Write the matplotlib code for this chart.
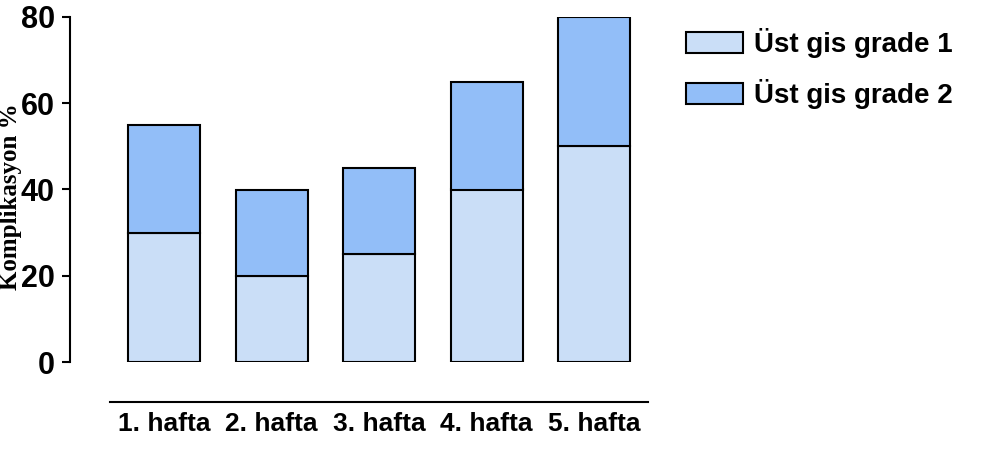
import matplotlib
matplotlib.use('Agg')
import matplotlib.pyplot as plt
import numpy as np

# data
weeks = ['1. hafta', '2. hafta', '3. hafta', '4. hafta', '5. hafta']
grade1 = [30, 20, 25, 40, 50]
grade2 = [25, 20, 20, 25, 30]
series_labels = ['Üst gis grade 1', 'Üst gis grade 2']
yticks = [0, 20, 40, 60, 80]

C_LIGHT = '#CADEF7'
C_DARK = '#92BEF8'

fig = plt.figure(figsize=(9.89, 4.5), dpi=100)
ax = fig.add_axes([70 / 989, 88 / 450, 578 / 989, 345 / 450])

x = np.arange(len(weeks))
ax.bar(x, grade1, width=0.67, color=C_LIGHT, edgecolor='black', linewidth=1.5,
       label=series_labels[0])
ax.bar(x, grade2, width=0.67, bottom=grade1, color=C_DARK, edgecolor='black',
       linewidth=1.5, label=series_labels[1])

ax.set_xlim(-0.874, 4.5)
ax.set_ylim(0, 80)

# R-style axes: left spine plus a detached bottom line
ax.spines['top'].set_visible(False)
ax.spines['right'].set_visible(False)
ax.spines['left'].set_linewidth(1.5)
ax.spines['bottom'].set_position(('outward', 29))
ax.spines['bottom'].set_bounds(-0.5, 4.5)
ax.spines['bottom'].set_linewidth(1.5)

ax.set_yticks(yticks)
ax.set_yticklabels([str(v) for v in yticks], fontsize=22, fontweight='bold',
                   family='Liberation Sans')
ax.tick_params(axis='y', length=6, width=1.5, pad=5)

ax.set_xticks(x)
ax.set_xticklabels(weeks, fontsize=19, fontweight='bold', family='Liberation Sans')
ax.tick_params(axis='x', length=0, pad=7)

ax.set_ylabel('Komplikasyon %', fontsize=18, fontweight='bold',
              family='Liberation Serif')
ax.yaxis.set_label_coords(-0.083, 0.48)

fig.legend(loc='upper left', bbox_to_anchor=(686 / 989, 1 - 28 / 450),
           frameon=False, borderpad=0, borderaxespad=0,
           prop={'family': 'Liberation Sans', 'weight': 'bold', 'size': 20},
           handlelength=2.05, handleheight=0.8, handletextpad=0.4, labelspacing=0.75)

plt.savefig('out.png', dpi=100)
plt.close()
